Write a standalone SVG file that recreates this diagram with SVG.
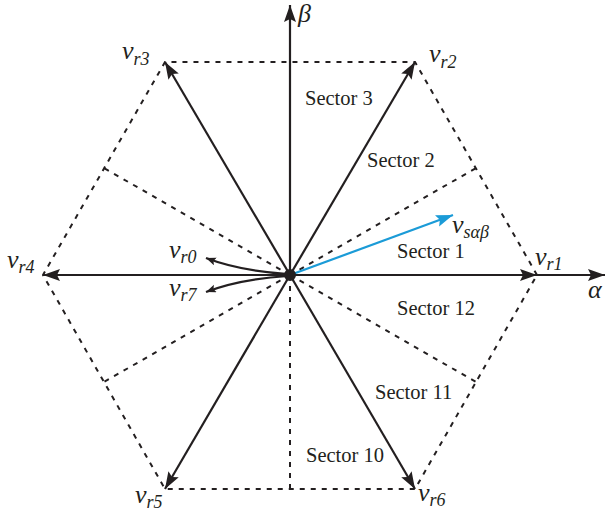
<svg xmlns="http://www.w3.org/2000/svg" width="607" height="514" viewBox="0 0 607 514">
<style>
.vec{stroke:#231f20;stroke-width:2.2;fill:none}
.dash{stroke:#231f20;stroke-width:2;fill:none;stroke-dasharray:5 6}
.sec{font-size:20.5px;fill:#231f20}
.m{font-style:italic;font-size:26px;fill:#231f20}
.s{font-size:18px}
</style>
<defs>
<marker id="ah" markerUnits="userSpaceOnUse" markerWidth="18" markerHeight="14" refX="17" refY="6" orient="auto">
<path d="M0,0 L17,6 L0,12 L3,6 z" fill="#231f20"/>
</marker>
<marker id="ahs" markerUnits="userSpaceOnUse" markerWidth="12" markerHeight="10" refX="10" refY="4" orient="auto">
<path d="M0,0 L10,4 L0,8 L2,4 z" fill="#231f20"/>
</marker>
<marker id="ahb" markerUnits="userSpaceOnUse" markerWidth="18" markerHeight="14" refX="17" refY="6" orient="auto">
<path d="M0,0 L17,6 L0,12 L3,6 z" fill="#1b9bd7"/>
</marker>
</defs>
<g id="hexagon">
<path class="dash" d="M537,275 L415,62 L165,62 L43,275 L165,489 L415,489 Z"/>
</g>
<g id="sector-lines">
<line class="dash" x1="290" y1="275" x2="476" y2="168"/>
<line class="dash" x1="290" y1="275" x2="104" y2="168"/>
<line class="dash" x1="290" y1="275" x2="104" y2="382"/>
<line class="dash" x1="290" y1="275" x2="476" y2="382"/>
<line class="dash" x1="290" y1="275" x2="290" y2="489"/>
</g>
<g id="connectors">
<line class="vec" x1="290" y1="275" x2="605" y2="275" marker-end="url(#ah)"/>
<line class="vec" x1="290" y1="275" x2="290" y2="5" marker-end="url(#ah)"/>
<line class="vec" x1="290" y1="275" x2="537" y2="275" marker-end="url(#ah)"/>
<line class="vec" x1="290" y1="275" x2="415" y2="62" marker-end="url(#ah)"/>
<line class="vec" x1="290" y1="275" x2="165" y2="62" marker-end="url(#ah)"/>
<line class="vec" x1="290" y1="275" x2="43" y2="275" marker-end="url(#ah)"/>
<line class="vec" x1="290" y1="275" x2="165" y2="489" marker-end="url(#ah)"/>
<line class="vec" x1="290" y1="275" x2="415" y2="489" marker-end="url(#ah)"/>
<path class="vec" d="M288,274 Q240,271 206,258" stroke-width="1.8" marker-end="url(#ahs)"/>
<path class="vec" d="M288,276 Q240,279 206,292" stroke-width="1.8" marker-end="url(#ahs)"/>
<line x1="290" y1="275" x2="453" y2="215" stroke="#1b9bd7" stroke-width="2.2" marker-end="url(#ahb)"/>
</g>
<g id="origin"><circle cx="290" cy="275" r="6" fill="#231f20"/></g>
<g id="labels" font-family="'Liberation Serif', 'Times New Roman', 'DejaVu Serif', serif">
<text class="m" x="298" y="22" font-size="21">β</text>
<text class="m" x="588" y="298">α</text>
<text class="m" x="535" y="265">v<tspan class="s" dy="5">r1</tspan></text>
<text class="m" x="429" y="62">v<tspan class="s" dy="6">r2</tspan></text>
<text class="m" x="122" y="59">v<tspan class="s" dy="6">r3</tspan></text>
<text class="m" x="7" y="268">v<tspan class="s" dy="5">r4</tspan></text>
<text class="m" x="135" y="503">v<tspan class="s" dy="5">r5</tspan></text>
<text class="m" x="418" y="501">v<tspan class="s" dy="5">r6</tspan></text>
<text class="m" x="169" y="258">v<tspan class="s" dy="5">r0</tspan></text>
<text class="m" x="169" y="296">v<tspan class="s" dy="5">r7</tspan></text>
<text class="m" x="452" y="233">v<tspan class="s" dy="5">sαβ</tspan></text>
</g>
<g id="sectors" font-family="'Liberation Serif', 'Times New Roman', 'DejaVu Serif', serif">
<text class="sec" x="305" y="105">Sector 3</text>
<text class="sec" x="367" y="167">Sector 2</text>
<text class="sec" x="397" y="258">Sector 1</text>
<text class="sec" x="397" y="315">Sector 12</text>
<text class="sec" x="375" y="399">Sector 11</text>
<text class="sec" x="306" y="462">Sector 10</text>
</g>
</svg>
